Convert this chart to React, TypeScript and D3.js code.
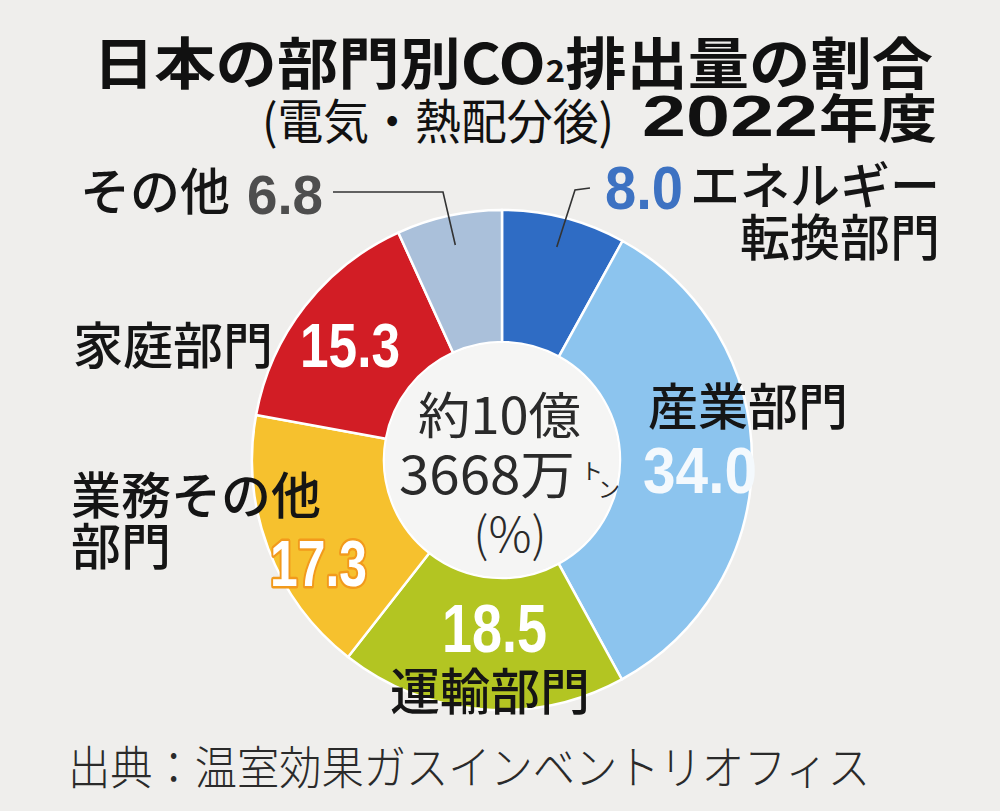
import * as d3 from "d3";
import { useEffect, useRef } from "react";

// chart data
const sectors = ["エネルギー転換部門", "産業部門", "運輸部門", "業務その他部門", "家庭部門", "その他"];
const shares = [8.0, 34.0, 18.5, 17.3, 15.3, 6.8];
const shareLabels = ["8.0", "34.0", "18.5", "17.3", "15.3", "6.8"];
const nameLines = [["エネルギー", "転換部門"], ["産業部門"], ["運輸部門"], ["業務その他", "部門"], ["家庭部門"], ["その他"]];
const titleText = ["日本の部門別", "CO", "2", "排出量の割合"];
const subTitle = ["(電気・熱配分後)", "2022", "年度"];
const centerLines = ["約10億", "3668万", "(%)"];
const sourceText = "出典：温室効果ガスインベントリオフィス";

const dms = { width: 1000, height: 811, cx: 502, cy: 460, rOuter: 250, rInner: 118 };
const colors = ["#2f6cc4", "#8cc4ee", "#b3c522", "#f6c12e", "#d21d25", "#aac0da"];
const jp = "'Noto Sans CJK JP', 'Noto Sans', sans-serif";
const num = "'Liberation Sans', Arial, sans-serif";

// label placement, per slice
const valuePos = [
  { x: 605, y: 209, len: 78, size: 62, fill: "#3d72c2" },
  { x: 643, y: 493, len: 114, size: 64, fill: "#f4f9fd" },
  { x: 442, y: 652, len: 105, size: 68, fill: "#ffffff" },
  { x: 270, y: 586, len: 97, size: 64, fill: "#ffffff", stroke: "#f29a1c" },
  { x: 300, y: 367, len: 100, size: 63, fill: "#ffffff" },
  { x: 247, y: 214, len: 76, size: 56, fill: "#4e4e4e" },
];
const namePos = [
  [{ x: 940, y: 204, a: "end" }, { x: 940, y: 256, a: "end" }],
  [{ x: 648, y: 425, a: "start" }],
  [{ x: 390, y: 710, a: "start" }],
  [{ x: 71, y: 514, a: "start" }, { x: 71, y: 565, a: "start" }],
  [{ x: 73, y: 364, a: "start" }],
  [{ x: 80, y: 210, a: "start" }],
];
const leaderElbows: Record<number, [number, number][]> = {
  0: [[575, 190], [590, 188]],
  5: [[443, 192], [333, 192]],
};

const App = () => {
  const ref = useRef<SVGSVGElement>(null);

  useEffect(() => {
    const svg = d3.select(ref.current);
    svg.selectAll("*").remove();

    svg.append("rect").attr("width", dms.width).attr("height", dms.height).attr("fill", "#efeeec");

    // title
    const t1 = svg.append("text").attr("x", 93).attr("y", 84).attr("font-family", jp).attr("font-weight", 700)
      .attr("font-size", 56).attr("fill", "#111").attr("textLength", 840).attr("lengthAdjust", "spacingAndGlyphs");
    t1.append("tspan").text(titleText[0]);
    t1.append("tspan").text(titleText[1]);
    t1.append("tspan").attr("font-size", 30).attr("dy", -2).text(titleText[2]);
    t1.append("tspan").attr("dy", 2).text(titleText[3]);

    svg.append("text").attr("x", 262).attr("y", 139).attr("font-family", jp).attr("font-weight", 400)
      .attr("font-size", 48).attr("fill", "#111").attr("textLength", 352).attr("lengthAdjust", "spacingAndGlyphs")
      .text(subTitle[0]);
    svg.append("text").attr("x", 642).attr("y", 136).attr("font-family", num).attr("font-weight", 700)
      .attr("font-size", 58).attr("fill", "#111").attr("textLength", 176).attr("lengthAdjust", "spacingAndGlyphs")
      .text(subTitle[1]);
    svg.append("text").attr("x", 819).attr("y", 138).attr("font-family", jp).attr("font-weight", 700)
      .attr("font-size", 52).attr("fill", "#111").attr("textLength", 118).attr("lengthAdjust", "spacingAndGlyphs")
      .text(subTitle[2]);

    // donut
    const pie = d3.pie<number>().sort(null).value((d) => d);
    const arcs = pie(shares);
    const arc = d3.arc<d3.PieArcDatum<number>>().innerRadius(dms.rInner).outerRadius(dms.rOuter);
    const g = svg.append("g").attr("transform", `translate(${dms.cx},${dms.cy})`);
    g.selectAll("path.slice").data(arcs).enter().append("path").attr("class", "slice")
      .attr("d", arc).attr("fill", (_, i) => colors[i]).attr("stroke", "#fff").attr("stroke-width", 2.5)
      .append("title").text((d, i) => `${sectors[i]} ${shareLabels[i]}`);
    g.append("circle").attr("r", dms.rInner - 1).attr("fill", "#f5f5f4");

    // leader lines
    const leaderArc = d3.arc<d3.PieArcDatum<number>>().innerRadius(220).outerRadius(220);
    Object.entries(leaderElbows).forEach(([k, pts]) => {
      const [px, py] = leaderArc.centroid(arcs[+k]);
      const line = d3.line();
      svg.append("path").attr("d", line([[px + dms.cx, py + dms.cy], ...pts]) as string)
        .attr("fill", "none").attr("stroke", "#333").attr("stroke-width", 1.6);
    });

    // values
    arcs.forEach((_, i) => {
      const p = valuePos[i];
      const t = svg.append("text").attr("x", p.x).attr("y", p.y).attr("font-family", num).attr("font-weight", 700)
        .attr("font-size", p.size).attr("fill", p.fill).attr("textLength", p.len).attr("lengthAdjust", "spacingAndGlyphs")
        .text(shareLabels[i]);
      if (p.stroke) t.attr("stroke", p.stroke).attr("stroke-width", 5).attr("paint-order", "stroke").attr("stroke-linejoin", "round");
    });

    // names
    nameLines.forEach((lines, i) => {
      lines.forEach((s, j) => {
        const p = namePos[i][j];
        svg.append("text").attr("x", p.x).attr("y", p.y).attr("text-anchor", p.a).attr("font-family", jp)
          .attr("font-weight", 500).attr("font-size", 50).attr("fill", "#151515").text(s);
      });
    });

    // center
    const c = svg.append("g").attr("font-family", jp).attr("fill", "#2a2a2a").attr("font-weight", 400);
    c.append("text").attr("x", 418).attr("y", 434).attr("font-size", 50).attr("textLength", 163)
      .attr("lengthAdjust", "spacingAndGlyphs").text(centerLines[0]);
    c.append("text").attr("x", 399).attr("y", 494).attr("font-size", 52).attr("textLength", 176)
      .attr("lengthAdjust", "spacingAndGlyphs").text(centerLines[1]);
    c.append("text").attr("x", 581).attr("y", 479).attr("font-size", 22).text("ト");
    c.append("text").attr("x", 598).attr("y", 497).attr("font-size", 22).text("ン");
    c.append("text").attr("x", 510).attr("y", 552).attr("text-anchor", "middle").attr("font-size", 48)
      .attr("font-weight", 300).text(centerLines[2]);

    // source
    svg.append("text").attr("x", 68).attr("y", 784).attr("font-family", jp).attr("font-weight", 300)
      .attr("font-size", 46).attr("fill", "#2a2a2a").attr("textLength", 802).attr("lengthAdjust", "spacingAndGlyphs")
      .text(sourceText);
  }, []);

  return (
    <svg ref={ref} width={dms.width} height={dms.height}
      style={{ position: "absolute", left: 0, top: 0, display: "block" }} />
  );
};

export default App;
